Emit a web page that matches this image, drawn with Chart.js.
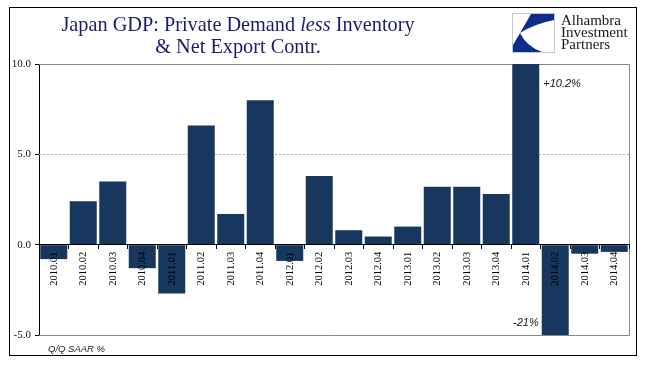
<!DOCTYPE html>
<html>
<head>
<meta charset="utf-8">
<script src="https://cdn.jsdelivr.net/npm/chart.js@4.4.0/dist/chart.umd.min.js"></script>
<style>
html,body{margin:0;padding:0;background:#fff;}
#wrap{position:relative;width:651px;height:381px;overflow:hidden;background:#fff;}
#c{position:absolute;left:0;top:0;}
#frame{position:absolute;left:9px;top:7px;width:628px;height:349px;border:1.5px solid #000;box-sizing:border-box;}
.title{position:absolute;left:38px;width:400px;top:13px;text-align:center;font-family:"Liberation Serif","Times New Roman",serif;font-size:20.3px;line-height:22px;color:#1c1c6e;}
.logoText{position:absolute;left:561px;top:14px;font-family:"Liberation Serif",serif;font-size:15px;line-height:12px;color:#1a1a1a;}
#logoBox{position:absolute;left:512px;top:13px;width:43px;height:40px;}
.note{position:absolute;left:48px;top:344px;font-family:"Liberation Sans",Arial,sans-serif;font-style:italic;font-size:9.5px;line-height:10px;color:#222;}
</style>
</head>
<body>
<div id="wrap">
  <canvas id="c" width="651" height="381"></canvas>
  <div id="frame"></div>
  <div class="title">Japan GDP: Private Demand <i>less</i> Inventory<br>&amp; Net Export Contr.</div>
  <svg id="logoBox" width="43" height="40" viewBox="0 0 43 40">
    <rect x="0.5" y="0.5" width="42" height="39" fill="#fff" stroke="#c8c8c8" stroke-width="1"/>
    <path d="M19 1 L42 1 L42 7 Q22 11 8 20 Z" fill="#0d2d8a"/>
    <path d="M8 20 Q14 33 30 39 L1 39 L1 32 Z" fill="#0d2d8a"/>
  </svg>
  <div class="logoText">Alhambra<br>Investment<br>Partners</div>
  <div class="note">Q/Q SAAR %</div>
</div>
<script>
const categories = ["2010.01","2010.02","2010.03","2010.04","2011.01","2011.02","2011.03","2011.04",
  "2012.01","2012.02","2012.03","2012.04","2013.01","2013.02","2013.03","2013.04",
  "2014.01","2014.02","2014.03","2014.04"];
const values = [-0.8, 2.4, 3.5, -1.3, -2.7, 6.6, 1.7, 8.0, -0.9, 3.8, 0.8, 0.45, 1.0, 3.2, 3.2, 2.8, 10.2, -21, -0.5, -0.4];
const yTicks = [-5, 0, 5, 10];
const noteLabels = ["+10.2%", "-21%"];
const noteCategories = ["2014.01", "2014.02"];

const yMin = Math.min(...yTicks), yMax = Math.max(...yTicks);

const framePlugin = {
  id: 'framePlugin',
  beforeDatasetsDraw(chart) {
    const {ctx, chartArea: a, scales: {y}} = chart;
    ctx.save();
    ctx.strokeStyle = '#b0b0b0';
    ctx.lineWidth = 1;
    ctx.setLineDash([2, 2]);
    yTicks.forEach(v => {
      if (v === yMin || v === yMax || v === 0) return;
      const py = Math.round(y.getPixelForValue(v)) + 0.5;
      ctx.beginPath(); ctx.moveTo(a.left, py); ctx.lineTo(a.right, py); ctx.stroke();
    });
    ctx.setLineDash([]);
    ctx.strokeStyle = '#888';
    const t = Math.round(y.getPixelForValue(yMax)) + 0.5;
    const b = Math.round(y.getPixelForValue(yMin)) + 0.5;
    const r = Math.round(a.right) + 0.5;
    ctx.beginPath();
    ctx.moveTo(a.left, t); ctx.lineTo(r, t); ctx.lineTo(r, b); ctx.lineTo(a.left, b);
    ctx.stroke();
    ctx.restore();
  },
  afterDatasetsDraw(chart) {
    const {ctx, chartArea: a} = chart;
    const meta = chart.getDatasetMeta(0);
    ctx.save();
    ctx.font = 'italic 11px "Liberation Sans", Arial, sans-serif';
    ctx.fillStyle = '#111';
    noteLabels.forEach((lab, k) => {
      const i = categories.indexOf(noteCategories[k]);
      const bar = meta.data[i];
      const half = bar.width / 2;
      ctx.textBaseline = 'alphabetic';
      if (values[i] >= 0) {
        ctx.textAlign = 'left';
        ctx.fillText(lab, bar.x + half + 4, a.top + 23);
      } else {
        ctx.textAlign = 'right';
        ctx.fillText(lab, bar.x - half - 3, a.bottom - 9);
      }
    });
    ctx.restore();
  }
};

new Chart(document.getElementById('c'), {
  type: 'bar',
  data: {
    labels: categories,
    datasets: [{
      data: values,
      backgroundColor: '#17375E',
      borderWidth: 0,
      barPercentage: 0.915,
      categoryPercentage: 1.0
    }]
  },
  options: {
    responsive: false,
    animation: false,
    layout: {padding: {top: 64, right: 22, bottom: 46, left: 0}},
    plugins: {legend: {display: false}, tooltip: {enabled: false}, title: {display: false}},
    scales: {
      x: {
        position: {y: 0},
        grid: {z: 1, offset: true, drawOnChartArea: false, drawTicks: true, tickLength: 4, color: '#000', tickColor: '#000'},
        border: {z: 1, display: true, color: '#000', width: 1},
        ticks: {z: 1, autoSkip: false, maxRotation: 90, minRotation: 90, padding: 3, color: '#000',
          font: {family: '"Liberation Serif", serif', size: 10.5}}
      },
      y: {
        min: yMin, max: yMax,
        afterBuildTicks: s => { s.ticks = yTicks.map(v => ({value: v})); },
        afterFit: s => { s.width = 39; },
        grid: {drawOnChartArea: false, drawTicks: true, tickLength: 4, tickColor: '#000', color: '#000'},
        border: {display: true, color: '#000', width: 1},
        ticks: {padding: 4, color: '#111', font: {family: '"Liberation Serif", serif', size: 11},
          callback: v => Number(v).toFixed(1)}
      }
    }
  },
  plugins: [framePlugin]
});
</script>
</body>
</html>
